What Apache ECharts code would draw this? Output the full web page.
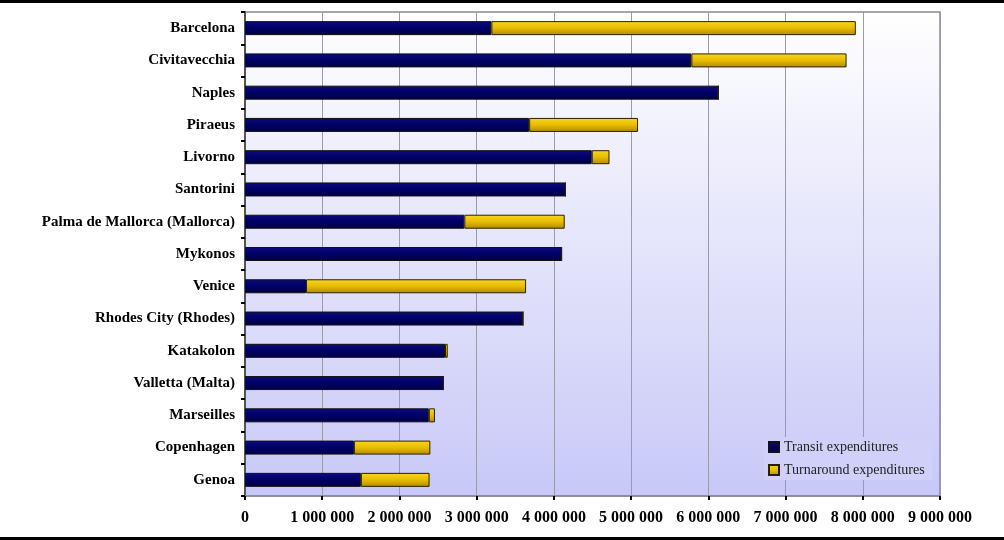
<!DOCTYPE html>
<html>
<head>
<meta charset="utf-8">
<script src="https://cdn.jsdelivr.net/npm/echarts@6/dist/echarts.min.js"></script>
<style>
html,body{margin:0;padding:0;background:#fff;}
#chart{width:1004px;height:540px;}
</style>
</head>
<body>
<div id="chart"></div>
<script>
const categories = ['Barcelona','Civitavecchia','Naples','Piraeus','Livorno','Santorini','Palma de Mallorca (Mallorca)','Mykonos','Venice','Rhodes City (Rhodes)','Katakolon','Valletta (Malta)','Marseilles','Copenhagen','Genoa'];
const transit = [3190000,5780000,6130000,3680000,4490000,4150000,2840000,4100000,790000,3600000,2590000,2570000,2380000,1410000,1500000];
const turnaround = [4720000,2010000,0,1410000,230000,0,1300000,0,2850000,0,35000,0,80000,990000,890000];
const seriesNames = ['Transit expenditures','Turnaround expenditures'];
const xTicks = {min:0, max:9000000, interval:1000000};

function fmt(v){ return String(v).replace(/\B(?=(\d{3})+(?!\d))/g, ' '); }

const chart = echarts.init(document.getElementById('chart'), null, {renderer:'canvas'});
const serif = '"Liberation Serif","Times New Roman",serif';
chart.setOption({
  animation:false,
  backgroundColor:'#ffffff',
  graphic:[
    {type:'rect', shape:{x:0,y:0,width:1004,height:3}, style:{fill:'#000'}},
    {type:'rect', shape:{x:0,y:537,width:1004,height:3}, style:{fill:'#000'}}
  ],
  grid:{
    left:245, right:64, top:12, bottom:44,
    show:true,
    borderColor:'#8a8a8a', borderWidth:1.5,
    backgroundColor:{type:'linear',x:0,y:0,x2:0,y2:1,colorStops:[{offset:0,color:'#ffffff'},{offset:1,color:'#c8c8f8'}]}
  },
  legend:{
    orient:'vertical', left:764, top:437,
    itemWidth:10, itemHeight:10, itemGap:9,
    padding:[3,8,3,4],
    backgroundColor:'#d0d0f8',
    icon:'rect',
    textStyle:{fontFamily:serif, fontSize:14, color:'#222'},
    data:seriesNames
  },
  xAxis:{
    type:'value', min:xTicks.min, max:xTicks.max, interval:xTicks.interval,
    axisLine:{show:true, lineStyle:{color:'#8a8a8a', width:1.5}},
    axisTick:{show:true, length:4, lineStyle:{color:'#000', width:2}},
    splitLine:{show:true, lineStyle:{color:'#9a9aaa', width:1}},
    axisLabel:{formatter:fmt, fontFamily:serif, fontWeight:'bold', fontSize:16, color:'#000', margin:14}
  },
  yAxis:{
    type:'category', data:categories, inverse:true,
    axisLine:{show:true, lineStyle:{color:'#555', width:2}},
    axisTick:{show:true, length:4, lineStyle:{color:'#000', width:2}},
    axisLabel:{fontFamily:serif, fontWeight:'bold', fontSize:15, color:'#000', margin:10}
  },
  series:[
    {name:seriesNames[0], type:'bar', stack:'t', data:transit, barWidth:14,
      itemStyle:{borderColor:'#111', borderWidth:1,
        color:{type:'linear',x:0,y:0,x2:0,y2:1,colorStops:[{offset:0,color:'#0c0c80'},{offset:0.5,color:'#000066'},{offset:1,color:'#000044'}]}}},
    {name:seriesNames[1], type:'bar', stack:'t', data:turnaround, barWidth:14,
      itemStyle:{borderColor:'#2a2000', borderWidth:1,
        color:{type:'linear',x:0,y:0,x2:0,y2:1,colorStops:[{offset:0,color:'#f8d820'},{offset:0.5,color:'#e8bc00'},{offset:1,color:'#b08a00'}]}}}
  ]
});
</script>
</body>
</html>
